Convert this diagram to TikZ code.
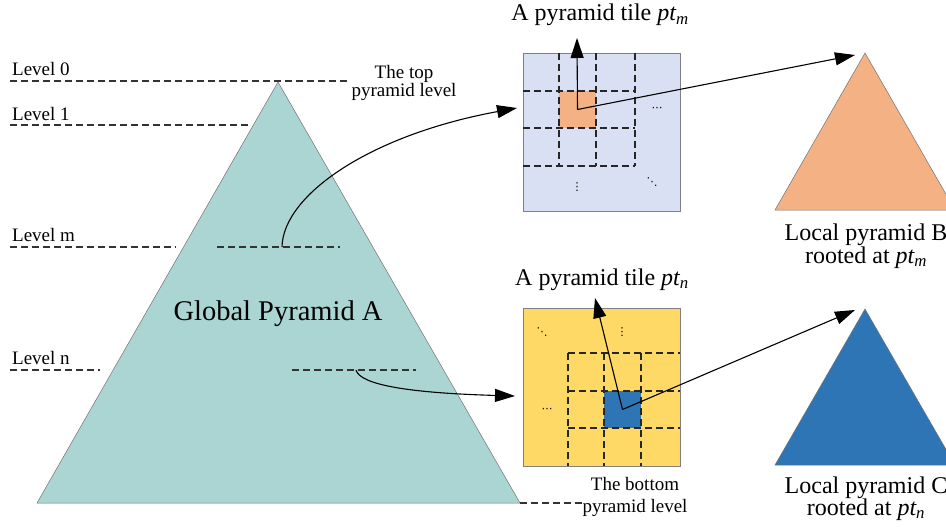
\documentclass[tikz,border=0pt]{standalone}
\usepackage{fontspec}
\setmainfont{Liberation Serif}
\newfontfamily\symfont{DejaVu Sans}
\usetikzlibrary{arrows.meta}
\definecolor{pyrA}{HTML}{ABD5D3}
\definecolor{tileblue}{HTML}{DAE0F3}
\definecolor{tileyellow}{HTML}{FFD966}
\definecolor{cellorange}{HTML}{F4B183}
\definecolor{cellblue}{HTML}{2E75B6}
\begin{document}
\begin{tikzpicture}[x=1pt,y=-1pt,
  lvl/.style={draw=black!80, line width=1.1pt, dash pattern=on 7pt off 4pt},
  gridline/.style={draw=black!85, line width=1.1pt, dash pattern=on 7pt off 4pt},
  arr/.style={draw=black, line width=1.1pt, -{Triangle[length=20pt,width=13pt]}},
  pyr/.style={draw=black!55, line width=0.5pt},
  tile/.style={draw=black!50, line width=0.6pt, minimum width=157pt, minimum height=158pt, inner sep=0pt},
  cell/.style={minimum width=37pt, minimum height=37pt, inner sep=0pt},
  lbl/.style={font=\fontsize{19}{21}\selectfont, inner sep=0pt, anchor=base west},
  small/.style={font=\fontsize{19}{21}\selectfont, inner sep=0pt, anchor=base},
  big/.style={font=\fontsize{24}{27}\selectfont, inner sep=0pt, anchor=base},
  dotsn/.style={font=\symfont\fontsize{11}{12}\selectfont, inner sep=0pt},
]
\clip (0,0) rectangle (946,527);
\fill[white] (0,0) rectangle (946,527);

% ---- Global pyramid A
\coordinate (Aapex) at (278,82);
\coordinate (Abl) at (37,503);
\coordinate (Abr) at (520,503);
\filldraw[pyr, fill=pyrA] (Aapex) -- (Abr) -- (Abl) -- cycle;
\node[font=\fontsize{28.5}{32}\selectfont, inner sep=0pt, anchor=base] (gA) at (278,320) {Global Pyramid A};

% ---- level lines and labels
\draw[lvl] (10,81) -- (350,81);
\draw[lvl] (10,125) -- (250,125);
\draw[lvl] (10,247) -- (176,247);
\draw[lvl] (217,247) -- (340,247);
\draw[lvl] (10,370) -- (100,370);
\draw[lvl] (292,370) -- (416,370);
\draw[lvl] (520,503) -- (582,503);

\node[lbl] (l0) at (12,76) {Level 0};
\node[lbl] (l1) at (12,121) {Level 1};
\node[lbl] (lm) at (12,241) {Level m};
\node[lbl] (ln) at (12,364) {Level n};

\node[small] (top1) at (404,79) {The top};
\node[small] (top2) at (404,97) {pyramid level};
\node[small] (bot1) at (635,490) {The bottom};
\node[small] (bot2) at (635,512) {pyramid level};

% ---- top tile
\node[tile, fill=tileblue] (T1) at (601.5,132) {};
\node[cell, fill=cellorange] (c1) at (577.5,109.5) {};
\foreach \x in {559,596,635} \draw[gridline] (\x,53) -- (\x,166);
\foreach \y in {91,128,166} \draw[gridline] (523,\y) -- (635,\y);
\node[dotsn] (d1) at (657,109) {⋯};
\node[dotsn] (d2) at (577,187) {⋮};
\node[dotsn] (d3) at (652,182) {⋱};
\node[big] (ptm) at (600,21) {A pyramid tile \textit{pt\textsubscript{m}}};

% ---- bottom tile
\node[tile, fill=tileyellow] (T2) at (601.5,387) {};
\node[cell, fill=cellblue] (c2) at (622.5,409.5) {};
\foreach \x in {568,604,641} \draw[gridline] (\x,353) -- (\x,466);
\foreach \y in {353,391,428} \draw[gridline] (568,\y) -- (680,\y);
\node[dotsn] (e1) at (542,332) {⋱};
\node[dotsn] (e2) at (622,332) {⋮};
\node[dotsn] (e3) at (547,410) {⋯};
\node[big] (ptn) at (602,285) {A pyramid tile \textit{pt\textsubscript{n}}};

% ---- local pyramids
\coordinate (Bapex) at (865,53);
\filldraw[pyr, fill=cellorange] (Bapex) -- (955,210) -- (775,210) -- cycle;
\node[big] (B1) at (866,240) {Local pyramid B};
\node[big] (B2) at (866,263) {rooted at \textit{pt\textsubscript{m}}};

\coordinate (Capex) at (865,309);
\filldraw[pyr, fill=cellblue] (Capex) -- (955,465) -- (775,465) -- cycle;
\node[big] (C1) at (866,493) {Local pyramid C};
\node[big] (C2) at (866,515) {rooted at \textit{pt\textsubscript{n}}};

% ---- connectors
\coordinate (sm) at (282,247);
\coordinate (tipT1) at (517,108);
\coordinate (sn) at (356,370);
\coordinate (tipT2) at (515,396);
\coordinate (tipM) at (577,38);
\coordinate (tipB) at (855,55);
\coordinate (tipN) at (595,298);
\coordinate (tipC) at (855,310);

\draw[arr] (sm) .. controls (283,195) and (370,135) .. (tipT1);
\draw[arr] (sn) .. controls (360,385) and (410,393) .. (tipT2);
\draw[arr] (c1.center) -- (tipM);
\draw[arr] (c1.center) -- (tipB);
\draw[arr] (c2.center) -- (tipN);
\draw[arr] (c2.center) -- (tipC);
\end{tikzpicture}
\end{document}
